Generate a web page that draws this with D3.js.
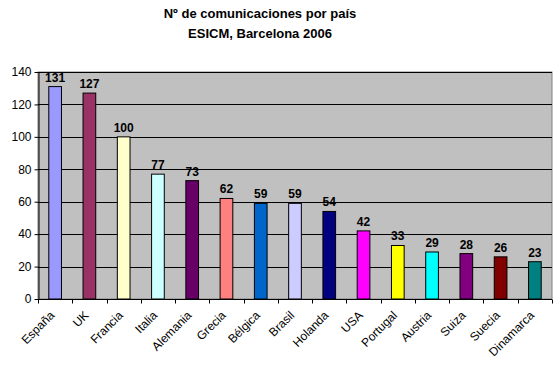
<!DOCTYPE html>
<html><head><meta charset="utf-8">
<script src="https://cdn.jsdelivr.net/npm/d3@7"></script>
<style>body{margin:0;background:#fff}svg{display:block}text{font-family:Arial,"Liberation Sans",sans-serif}</style>
</head><body>
<script>
const categories = ["España","UK","Francia","Italia","Alemania","Grecia","Bélgica","Brasil","Holanda","USA","Portugal","Austria","Suiza","Suecia","Dinamarca"];
const values = [131,127,100,77,73,62,59,59,54,42,33,29,28,26,23];
const colors = ["#9999FF","#993366","#FFFFCC","#CCFFFF","#660066","#FF8080","#0066CC","#CCCCFF","#000080","#FF00FF","#FFFF00","#00FFFF","#800080","#800000","#008080"];
const yTicks = [0,20,40,60,80,100,120,140];
const titleLines = ["Nº de comunicaciones por país","ESICM, Barcelona 2006"];

const W=560,H=372, L=38, R=552, T=72, B=299;
const svg=d3.select("body").append("svg").attr("width",W).attr("height",H);
const x=d3.scaleBand().domain(categories).range([L,R]);
const y=d3.scaleLinear().domain([0,140]).range([B,T]);

svg.append("rect").attr("x",L).attr("y",T).attr("width",R-L).attr("height",B-T).attr("fill","#C0C0C0").attr("stroke","#808080");
svg.append("g").selectAll("line").data(yTicks.slice(1)).join("line")
 .attr("x1",L).attr("x2",R).attr("y1",d=>Math.round(y(d))+0.5).attr("y2",d=>Math.round(y(d))+0.5)
 .attr("stroke","#000").attr("stroke-width",1);

const bw=x.bandwidth()/2.7;
svg.append("g").selectAll("rect").data(values).join("rect")
 .attr("x",(d,i)=>x(categories[i])+x.bandwidth()/2-bw/2)
 .attr("y",d=>y(d)).attr("width",bw).attr("height",d=>B-y(d))
 .attr("fill",(d,i)=>colors[i]).attr("stroke","#000").attr("stroke-width",1);

svg.append("g").selectAll("text").data(values).join("text")
 .attr("x",(d,i)=>x(categories[i])+x.bandwidth()/2).attr("y",d=>y(d)-5)
 .attr("text-anchor","middle").attr("font-size","12px").attr("font-weight","bold").text(d=>d);

const ya=svg.append("g").attr("transform",`translate(${L+0.5},0)`)
 .call(d3.axisLeft(y).tickValues(yTicks).tickSize(4).tickSizeOuter(0));
ya.select(".domain").attr("stroke","#000");
ya.selectAll("text").attr("font-size","12px").attr("font-family","Arial").attr("fill","#000");

const xa=svg.append("g").attr("transform",`translate(0,${B+0.5})`);
xa.append("line").attr("x1",L).attr("x2",R).attr("stroke","#000");
xa.selectAll("line.t").data(d3.range(categories.length+1)).join("line").attr("class","t")
 .attr("x1",i=>Math.round(L+i*x.step())+0.5).attr("x2",i=>Math.round(L+i*x.step())+0.5).attr("y1",0).attr("y2",4).attr("stroke","#000");
svg.append("g").selectAll("text").data(categories).join("text")
 .attr("transform",d=>`translate(${x(d)+x.bandwidth()/2-6},${B+11}) rotate(-45)`)
 .attr("text-anchor","end").attr("dy","0.71em").attr("font-size","12px").text(d=>d);

svg.append("g").selectAll("text").data(titleLines).join("text")
 .attr("x",260).attr("y",(d,i)=>18+i*20).attr("text-anchor","middle")
 .attr("font-size","13px").attr("font-weight","bold").text(d=>d);
</script>
</body></html>
